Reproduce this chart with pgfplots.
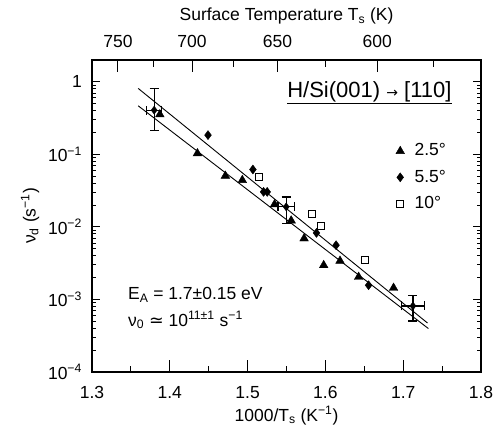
\documentclass[border=0pt]{standalone}
\usepackage{fontspec}
\setmainfont{Liberation Sans}
\newfontfamily\dejavu{DejaVu Sans}
\usepackage{pgfplots}
\pgfplotsset{compat=1.18}
\pgfplotsset{myframe/.style={scale only axis,
  width=389pt, height=312pt, xmin=1.3, xmax=1.8, ymin=1e-4, ymax=2,
  axis line style={line width=1.2pt}, every tick/.style={black, line width=1pt},
  tick align=inside, label style={font=\fontsize{17.5}{21}\selectfont},
  tick label style={font=\fontsize{17.5}{21}\selectfont}}}
\begin{document}
\fontsize{17.5}{21}\selectfont
\begin{tikzpicture}
\useasboundingbox (-92pt,-58pt) rectangle (410pt,372pt);
% y ticks axis
\begin{semilogyaxis}[myframe, at={(0,0)}, anchor=south west, xtick=\empty,
  ytick={1e-4,1e-3,1e-2,1e-1,1},
  yticklabels={10\textsuperscript{−4},10\textsuperscript{−3},10\textsuperscript{−2},10\textsuperscript{−1},1},
  minor ytick={2e-4,3e-4,4e-4,5e-4,6e-4,7e-4,8e-4,9e-4,2e-3,3e-3,4e-3,5e-3,6e-3,7e-3,8e-3,9e-3,
    0.02,0.03,0.04,0.05,0.06,0.07,0.08,0.09,0.2,0.3,0.4,0.5,0.6,0.7,0.8,0.9},
  major tick length=8pt, minor tick length=4.5pt,
  yticklabel shift=4pt, ylabel shift=-3pt,
  ylabel={ν\textsubscript{d} (s\textsuperscript{−1})}]
\end{semilogyaxis}
% top axis
\begin{semilogyaxis}[myframe, at={(0,0)}, anchor=south west, axis x line*=top, axis y line=none,
  xtick={1.333333,1.428571,1.538462,1.666667}, xticklabels={750,700,650,600},
  minor xtick={1.379310,1.481481,1.6,1.739130},
  major tick length=12pt, minor tick length=7pt,
  xticklabel style={yshift=6.5pt},
  xlabel style={at={(axis description cs:0.5,1)}, anchor=base, yshift=39pt},
  xlabel={Surface Temperature T\textsubscript{s} (K)}]
\end{semilogyaxis}
% data axis
\begin{semilogyaxis}[myframe, at={(0,0)}, anchor=south west, ytick=\empty, xtick pos=bottom,
  xtick={1.3,1.4,1.5,1.6,1.7,1.8}, xticklabels={1.3,1.4,1.5,1.6,1.7,1.8},
  minor xtick={1.35,1.45,1.55,1.65,1.75},
  major tick length=12pt, minor tick length=6pt,
  xticklabel style={yshift=-8.5pt},
  xlabel style={at={(axis description cs:0.5,0)}, anchor=base, yshift=-49pt},
  xlabel={1000/T\textsubscript{s} (K\textsuperscript{−1})},
  legend style={draw=none, fill=none, at={(0.773,0.745)}, anchor=north west,
    row sep=7.3pt, column sep=8pt, font=\fontsize{17.5}{21}\selectfont},
  legend cell align=left]
\addplot[black, line width=0.9pt, forget plot] coordinates {(1.3594,0.811) (1.7312,4.74e-4)};
\addplot[black, line width=0.9pt, forget plot] coordinates {(1.3594,0.467) (1.7324,3.97e-4)};
\addplot[black, only marks, mark=triangle*, mark size=5pt] coordinates {
(1.3872,0.355) (1.4355,0.103) (1.4714,0.0505) (1.4932,0.0441) (1.5346,0.0204)
(1.5560,0.0122) (1.5726,0.00692) (1.5978,0.00296) (1.6188,0.0034) (1.6427,0.00204)
(1.6876,0.00144)};
\addlegendentry{2.5°}
\addplot[black, only marks, mark=diamond*, mark size=4.5pt] coordinates {
(1.4491,0.184) (1.5068,0.0619) (1.5205,0.0304) (1.5252,0.0304) (1.5885,0.00826)
(1.6137,0.0056) (1.6555,0.00157)};
\addlegendentry{5.5°}
\addplot[black, only marks, mark=square, mark size=3.5pt, mark options={line width=0.8pt}] coordinates {
(1.5141,0.0489) (1.5824,0.0153) (1.5940,0.0102) (1.6513,0.00347)};
\addlegendentry{10°}
\addplot[black, only marks, mark=diamond*, mark size=4pt, forget plot,
  error bars/.cd, x dir=both, x explicit, y dir=both, y explicit,
  error bar style={line width=1.2pt},
  error mark options={rotate=90, mark size=4.5pt, line width=1.2pt}] coordinates {
(1.3799,0.407) += (0.0096,0.404) -= (0.0096,0.195)
(1.5496,0.0189) += (0.0106,0.0070) -= (0.0106,0.0078)
(1.7125,8.13e-4) += (0.0145,3.27e-4) -= (0.0145,3.08e-4)};
\node[anchor=base, inner sep=0pt, font=\fontsize{22}{26}\selectfont] (t) at (rel axis cs:0.713,0.880) {H/Si(001) {\dejavu\fontsize{14}{16}\selectfont →} [110]};
\draw[line width=1.2pt] ([yshift=-6pt]t.base west) -- ([yshift=-6pt]t.base east);
\node[anchor=base west, inner sep=0pt] at (rel axis cs:0.0923,0.231) {E\textsubscript{A} = 1.7±0.15 eV};
\node[anchor=base west, inner sep=0pt] at (rel axis cs:0.0923,0.147) {ν\textsubscript{0} {\dejavu ≃} 10\textsuperscript{11±1} s\textsuperscript{−1}};
\end{semilogyaxis}
\end{tikzpicture}
\end{document}
